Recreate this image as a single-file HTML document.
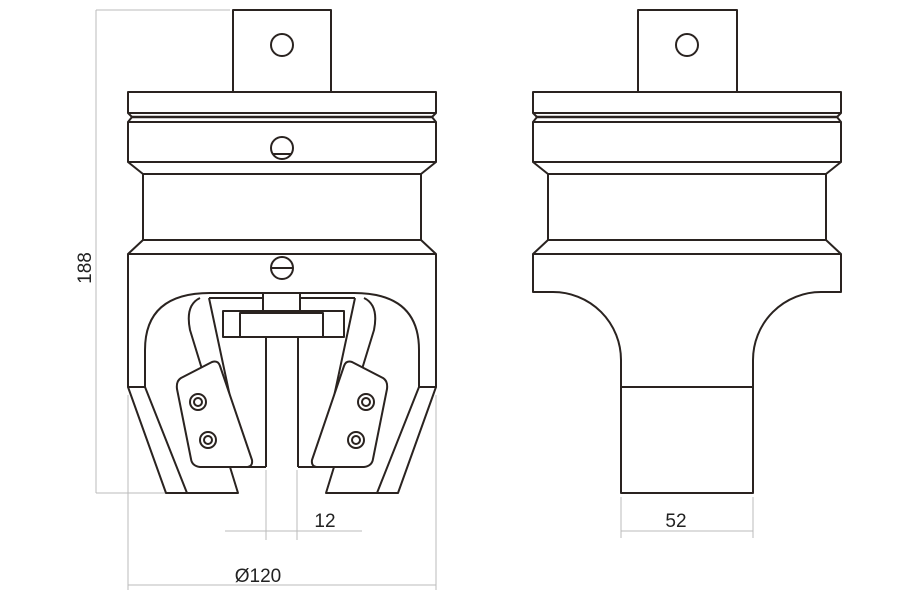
<!DOCTYPE html>
<html><head><style>html,body{margin:0;padding:0;background:#fff}svg{display:block}</style></head>
<body>
<svg width="900" height="600" viewBox="0 0 900 600" xmlns="http://www.w3.org/2000/svg">
<g fill="none" stroke="#bbb" stroke-width="1">
<line x1="96" y1="10" x2="230" y2="10"/><line x1="96" y1="10" x2="96" y2="493"/><line x1="96" y1="493" x2="165" y2="493"/>
<line x1="128" y1="395" x2="128" y2="590"/><line x1="436" y1="395" x2="436" y2="590"/><line x1="128" y1="585" x2="436" y2="585"/>
<line x1="266" y1="470" x2="266" y2="540"/><line x1="297" y1="470" x2="297" y2="540"/><line x1="225" y1="531" x2="362" y2="531"/>
<line x1="621" y1="497" x2="621" y2="538"/><line x1="753" y1="497" x2="753" y2="538"/><line x1="621" y1="531" x2="753" y2="531"/>
</g>
<g font-family="Liberation Sans, sans-serif" font-size="19" fill="#222">
<text x="91" y="268" transform="rotate(-90 91 268)" text-anchor="middle">188</text>
<text x="258" y="582" text-anchor="middle">Ø120</text>
<text x="325" y="527" text-anchor="middle">12</text>
<text x="676" y="527" text-anchor="middle">52</text>
</g>
<g fill="none" stroke="#2a2320" stroke-width="2" stroke-linejoin="round">
<rect x="233" y="10" width="98" height="82"/><circle cx="282" cy="45" r="11"/>
<rect x="128" y="92" width="308" height="21"/>
<path d="M128 113 L132 117 L128 122 M436 113 L432 117 L436 122"/>
<line x1="132" y1="117" x2="432" y2="117" stroke-width="2.5"/>
<rect x="128" y="122" width="308" height="40"/><circle cx="282" cy="148" r="11"/><line x1="273" y1="154" x2="291" y2="154"/>
<path d="M128 162 L143 174 L421 174 L436 162"/>
<path d="M143 174 L143 240 L421 240 L421 174"/>
<path d="M143 240 L128 254 L436 254 L421 240"/>
<path d="M128 254 L128 387 L145 387 M436 254 L436 387 L419 387"/>
<circle cx="282" cy="268" r="11"/><line x1="271" y1="268" x2="293" y2="268"/>
<path d="M145 387 L145 350 Q145 293 210 293 L354 293 Q419 293 419 350 L419 387"/>
<path d="M128 387 L166 493 L238 493 L230 467 M145 387 L187 493"/>
<path d="M436 387 L398 493 L326 493 L334 467 M419 387 L377 493"/>
<path d="M200 298 Q185 305 190 330 L232 467 L266 467 M209 298 L245 467"/>
<path d="M364 298 Q379 305 374 330 L332 467 L298 467 M355 298 L319 467"/>
<path d="M209 298 L263 298 M301 298 L355 298"/>
<rect x="263" y="293" width="37" height="18"/>
<rect x="223" y="311" width="121" height="26"/><rect x="240" y="313" width="83" height="24"/>
<line x1="266" y1="337" x2="266" y2="467"/><line x1="298" y1="337" x2="298" y2="467"/>
<path d="M181 378 L212 362 Q218 360 220 366 L252 460 Q253 467 246 467 L200 467 Q192 466 191 459 L177 389 Q176 381 181 378 Z" fill="#fff"/>
<path d="M383 378 L352 362 Q346 360 344 366 L312 460 Q311 467 318 467 L364 467 Q372 466 373 459 L387 389 Q388 381 383 378 Z" fill="#fff"/>
<circle cx="198" cy="402" r="8"/><circle cx="198" cy="402" r="4"/>
<circle cx="208" cy="440" r="8"/><circle cx="208" cy="440" r="4"/>
<circle cx="366" cy="402" r="8"/><circle cx="366" cy="402" r="4"/>
<circle cx="356" cy="440" r="8"/><circle cx="356" cy="440" r="4"/>
<rect x="638" y="10" width="99" height="82"/><circle cx="687" cy="45" r="11"/>
<rect x="533" y="92" width="308" height="21"/>
<path d="M533 113 L537 117 L533 122 M841 113 L837 117 L841 122"/>
<line x1="537" y1="117" x2="837" y2="117" stroke-width="2.5"/>
<rect x="533" y="122" width="308" height="40"/>
<path d="M533 162 L548 174 L826 174 L841 162"/>
<path d="M548 174 L548 240 L826 240 L826 174"/>
<path d="M548 240 L533 254 L841 254 L826 240"/>
<path d="M533 254 L533 292 L553 292 A68 68 0 0 1 621 360 L621 493 L753 493 L753 360 A68 68 0 0 1 821 292 L841 292 L841 254"/>
<line x1="621" y1="387" x2="753" y2="387"/>
</g>
</svg>
</body></html>
